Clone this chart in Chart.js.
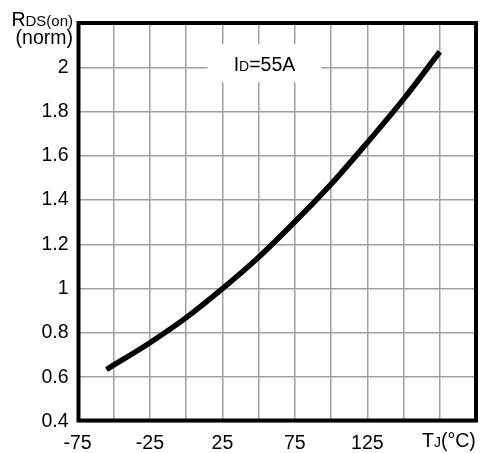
<!DOCTYPE html>
<html>
<head>
<meta charset="utf-8">
<script src="https://cdn.jsdelivr.net/npm/chart.js@4/dist/chart.umd.min.js"></script>
<style>
  html, body { margin: 0; padding: 0; background: #fff; }
  #wrap { width: 486px; height: 453px; }
</style>
</head>
<body>
<div id="wrap"><canvas id="rdsChart"></canvas></div>
<script>
// Junction temperature (°C) and normalized RDS(on)
const tempC = [-55, -25, 0, 25, 50, 75, 100, 125, 150, 175];
const rdsNorm = [0.635, 0.756, 0.869, 1.0, 1.142, 1.302, 1.472, 1.66, 1.856, 2.07];

const xTickLabels = [-75, -25, 25, 75, 125];
const yTickLabels = [0.4, 0.6, 0.8, 1, 1.2, 1.4, 1.6, 1.8, 2];

const FONT = '"Liberation Sans", Arial, sans-serif';
const BIG = 19.5;
const SMALL = 14;

// draw text with a smaller subscript part, e.g. R + DS(on)
function richText(ctx, parts, x, y, align) {
    let total = 0;
    parts.forEach(p => {
        ctx.font = p.size + 'px ' + FONT;
        p.w = ctx.measureText(p.t).width;
        total += p.w;
    });
    let cx = align === 'right' ? x - total : align === 'center' ? x - total / 2 : x;
    ctx.textAlign = 'left';
    ctx.textBaseline = 'alphabetic';
    parts.forEach(p => {
        ctx.font = p.size + 'px ' + FONT;
        ctx.fillText(p.t, cx, y);
        cx += p.w;
    });
}

const framePlugin = {
    id: 'frame',
    afterDatasetsDraw(chart) {
        const { ctx, chartArea: a, scales } = chart;
        ctx.save();

        // ID=55A label box
        const bx = scales.x.getPixelForValue(54);
        const by = scales.y.getPixelForValue(2.0);
        ctx.fillStyle = '#fff';
        ctx.fillRect(bx - 57, by - 23, 114, 38);
        ctx.fillStyle = '#000';
        richText(ctx, [{ t: 'I', size: BIG }, { t: 'D', size: SMALL }, { t: '=55A', size: BIG }], bx, by + 4, 'center');

        // heavy plot frame
        ctx.strokeStyle = '#000';
        ctx.lineWidth = 4;
        ctx.strokeRect(a.left + 1, a.top, a.right - a.left - 1, a.bottom - a.top - 1);

        // axis titles
        richText(ctx, [{ t: 'R', size: BIG }, { t: 'DS(on)', size: 15 }], 73, 26, 'right');
        richText(ctx, [{ t: '(norm)', size: BIG }], 73, 44, 'right');
        richText(ctx, [{ t: 'T', size: BIG }, { t: 'J', size: SMALL }, { t: '(°C)', size: BIG }], 422, 447, 'left');
        ctx.restore();
    }
};

new Chart(document.getElementById('rdsChart'), {
    type: 'line',
    data: {
        datasets: [{
            data: tempC.map((t, i) => ({ x: t, y: rdsNorm[i] })),
            borderColor: '#000',
            borderWidth: 5.5,
            borderCapStyle: 'butt',
            cubicInterpolationMode: 'monotone',
            pointRadius: 0,
            fill: false
        }]
    },
    options: {
        responsive: true,
        maintainAspectRatio: false,
        animation: false,
        layout: { padding: { top: 23, right: 9, left: 0, bottom: 0 } },
        plugins: { legend: { display: false }, tooltip: { enabled: false } },
        scales: {
            x: {
                type: 'linear',
                min: -75,
                max: 200,
                afterFit: s => { s.height = 31.5; },
                ticks: {
                    stepSize: 25,
                    autoSkip: false,
                    maxRotation: 0,
                    padding: 10,
                    color: '#000',
                    font: { family: FONT, size: BIG },
                    callback: v => xTickLabels.includes(v) ? String(v) : ''
                },
                grid: { color: '#a0a0a0', lineWidth: 1.5, drawTicks: false },
                border: { display: false }
            },
            y: {
                min: 0.4,
                max: 2.2,
                afterFit: s => { s.width = 77.5; },
                ticks: {
                    stepSize: 0.2,
                    autoSkip: false,
                    padding: 9,
                    color: '#000',
                    font: { family: FONT, size: BIG },
                    callback: v => {
                        const r = Math.round(v * 10) / 10;
                        return yTickLabels.includes(r) ? String(r) : '';
                    }
                },
                grid: { color: '#a0a0a0', lineWidth: 1.5, drawTicks: false },
                border: { display: false }
            }
        }
    },
    plugins: [framePlugin]
});
</script>
</body>
</html>
